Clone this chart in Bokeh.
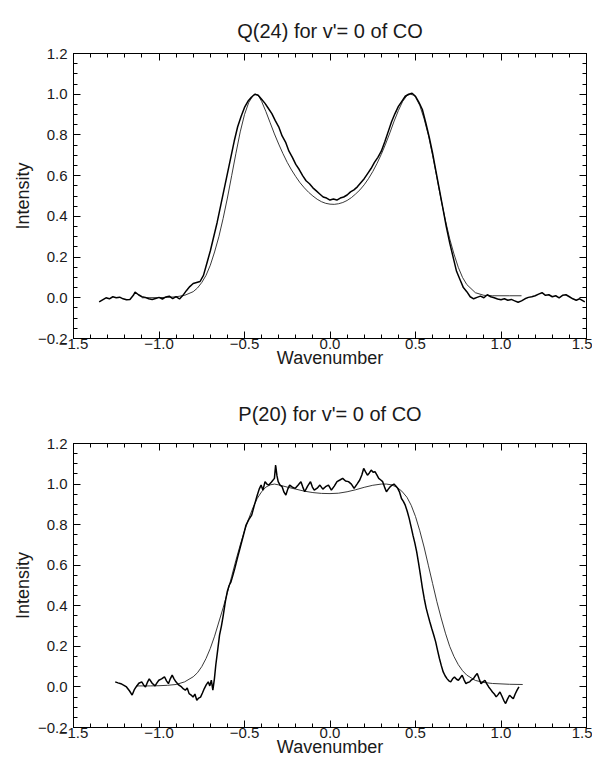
from bokeh.plotting import figure
from bokeh.models import FixedTicker, LinearAxis, Range1d
from bokeh.layouts import column
from bokeh.embed import file_html
from bokeh.resources import INLINE

# ---------------- data: Q(24) for v'=0 of CO ----------------
q_meas_x = [-1.35, -1.33, -1.31, -1.29, -1.27, -1.25, -1.23, -1.21, -1.19, -1.17,
            -1.15, -1.14, -1.12, -1.10, -1.08, -1.06, -1.04, -1.02, -1.00, -0.98,
            -0.96, -0.94, -0.92, -0.90, -0.88, -0.86, -0.84, -0.82, -0.80, -0.78,
            -0.76, -0.74, -0.72, -0.70, -0.68, -0.66, -0.64, -0.62, -0.60, -0.58,
            -0.56, -0.54, -0.52, -0.50, -0.48, -0.46, -0.44, -0.42, -0.40, -0.38,
            -0.36, -0.34, -0.32, -0.30, -0.28, -0.26, -0.24, -0.22, -0.20, -0.18,
            -0.16, -0.14, -0.12, -0.10, -0.08, -0.06, -0.04, -0.02, 0.00, 0.02,
            0.04, 0.06, 0.08, 0.10, 0.12, 0.14, 0.16, 0.18, 0.20, 0.22,
            0.24, 0.26, 0.28, 0.30, 0.32, 0.34, 0.36, 0.38, 0.40, 0.42,
            0.44, 0.46, 0.48, 0.50, 0.52, 0.54, 0.56, 0.58, 0.60, 0.62,
            0.64, 0.66, 0.68, 0.70, 0.72, 0.74, 0.76, 0.78, 0.80, 0.82,
            0.84, 0.86, 0.88, 0.90, 0.92, 0.94, 0.96, 0.98, 1.00, 1.02,
            1.04, 1.06, 1.08, 1.10, 1.12, 1.14, 1.16, 1.18, 1.20, 1.22,
            1.24, 1.26, 1.28, 1.30, 1.32, 1.34, 1.36, 1.38, 1.40, 1.42,
            1.44, 1.46, 1.48, 1.49]
q_meas_y = [-0.020, -0.010, 0.000, -0.005, 0.005, 0.000, 0.003, -0.005, -0.010, -0.008,
            0.012, 0.028, 0.015, 0.005, 0.002, -0.005, -0.008, -0.004, 0.002, -0.006,
            0.004, 0.008, -0.004, 0.006, -0.006, 0.012, 0.035, 0.055, 0.070, 0.075,
            0.080, 0.110, 0.170, 0.230, 0.300, 0.370, 0.450, 0.530, 0.610, 0.690,
            0.770, 0.840, 0.890, 0.935, 0.965, 0.985, 1.000, 0.995, 0.975, 0.955,
            0.930, 0.905, 0.870, 0.840, 0.795, 0.765, 0.720, 0.690, 0.655, 0.630,
            0.600, 0.575, 0.560, 0.540, 0.525, 0.510, 0.495, 0.490, 0.480, 0.485,
            0.480, 0.490, 0.495, 0.505, 0.520, 0.530, 0.545, 0.565, 0.585, 0.610,
            0.635, 0.665, 0.690, 0.720, 0.765, 0.815, 0.865, 0.905, 0.940, 0.965,
            0.990, 1.000, 1.005, 0.990, 0.960, 0.925, 0.860, 0.790, 0.710, 0.620,
            0.530, 0.440, 0.350, 0.270, 0.200, 0.130, 0.090, 0.050, 0.030, 0.005,
            -0.005, 0.002, 0.008, 0.000, 0.015, 0.005, 0.000, -0.006, -0.010, -0.005,
            -0.012, -0.008, -0.015, -0.022, -0.015, -0.005, 0.002, 0.005, 0.010, 0.018,
            0.025, 0.012, 0.015, 0.005, 0.010, 0.000, 0.012, 0.015, 0.005, -0.005,
            -0.012, -0.005, -0.015, -0.020]

q_fit_x = [-1.10, -1.00, -0.95, -0.90, -0.85, -0.80, -0.775, -0.75, -0.725, -0.70,
           -0.675, -0.65, -0.625, -0.60, -0.575, -0.55, -0.525, -0.50, -0.475, -0.45,
           -0.435, -0.42, -0.40, -0.375, -0.35, -0.325, -0.30, -0.275, -0.25, -0.225,
           -0.20, -0.175, -0.15, -0.125, -0.10, -0.075, -0.05, -0.025, 0.00, 0.025,
           0.05, 0.075, 0.10, 0.125, 0.15, 0.175, 0.20, 0.225, 0.25, 0.275,
           0.30, 0.325, 0.35, 0.375, 0.40, 0.425, 0.45, 0.47, 0.49, 0.50,
           0.525, 0.55, 0.575, 0.60, 0.625, 0.65, 0.675, 0.70, 0.725, 0.75,
           0.775, 0.80, 0.85, 0.90, 0.95, 1.00, 1.05, 1.12]
q_fit_y = [0.000, 0.001, 0.002, 0.005, 0.012, 0.030, 0.048, 0.075, 0.110, 0.160,
           0.225, 0.300, 0.390, 0.490, 0.600, 0.710, 0.815, 0.900, 0.960, 0.993,
           1.000, 0.995, 0.965, 0.915, 0.860, 0.805, 0.755, 0.708, 0.665, 0.628,
           0.595, 0.565, 0.540, 0.518, 0.500, 0.484, 0.472, 0.464, 0.460, 0.459,
           0.462, 0.468, 0.478, 0.492, 0.510, 0.530, 0.555, 0.585, 0.620, 0.660,
           0.705, 0.755, 0.810, 0.868, 0.920, 0.965, 0.993, 1.000, 0.995, 0.985,
           0.945, 0.880, 0.800, 0.700, 0.590, 0.480, 0.380, 0.290, 0.215, 0.150,
           0.100, 0.065, 0.025, 0.012, 0.010, 0.010, 0.010, 0.010]

# ---------------- data: P(20) for v'=0 of CO ----------------
p_meas_x = [-1.256, -1.240, -1.223, -1.205, -1.190, -1.172, -1.157, -1.145, -1.134, -1.118,
            -1.101, -1.090, -1.079, -1.068, -1.057, -1.040, -1.023, -1.012, -1.001, -0.985,
            -0.968, -0.956, -0.945, -0.934, -0.923, -0.912, -0.901, -0.885, -0.868, -0.857,
            -0.846, -0.835, -0.824, -0.812, -0.801, -0.790, -0.779, -0.768, -0.757, -0.746,
            -0.735, -0.724, -0.712, -0.703, -0.694, -0.685, -0.676, -0.668, -0.657, -0.646,
            -0.635, -0.624, -0.612, -0.601, -0.590, -0.579, -0.568, -0.557, -0.540, -0.524,
            -0.507, -0.491, -0.475, -0.458, -0.441, -0.425, -0.414, -0.403, -0.392, -0.380,
            -0.369, -0.358, -0.342, -0.325, -0.318, -0.310, -0.303, -0.292, -0.280, -0.269,
            -0.258, -0.247, -0.236, -0.220, -0.203, -0.186, -0.170, -0.159, -0.148, -0.131,
            -0.114, -0.103, -0.092, -0.075, -0.059, -0.042, -0.026, -0.009, 0.008, 0.025,
            0.041, 0.058, 0.074, 0.091, 0.108, 0.125, 0.141, 0.158, 0.174, 0.186,
            0.197, 0.208, 0.219, 0.230, 0.241, 0.252, 0.263, 0.274, 0.285, 0.297,
            0.308, 0.319, 0.330, 0.341, 0.352, 0.363, 0.374, 0.385, 0.396, 0.407,
            0.418, 0.429, 0.440, 0.452, 0.463, 0.474, 0.485, 0.496, 0.507, 0.518,
            0.529, 0.540, 0.551, 0.562, 0.573, 0.584, 0.595, 0.607, 0.618, 0.629,
            0.640, 0.651, 0.662, 0.673, 0.684, 0.695, 0.706, 0.717, 0.728, 0.740,
            0.751, 0.762, 0.773, 0.784, 0.795, 0.806, 0.817, 0.828, 0.839, 0.850,
            0.861, 0.872, 0.883, 0.895, 0.906, 0.917, 0.928, 0.939, 0.950, 0.961,
            0.972, 0.983, 0.994, 1.005, 1.016, 1.027, 1.038, 1.050, 1.061, 1.072,
            1.083, 1.094, 1.105]
p_meas_y = [0.025, 0.020, 0.016, 0.008, 0.000, -0.020, -0.040, -0.015, 0.000, 0.018,
            0.025, 0.010, 0.000, 0.022, 0.040, 0.018, 0.005, 0.020, 0.033, 0.040,
            0.050, 0.030, 0.016, 0.040, 0.058, 0.040, 0.025, 0.010, 0.000, -0.010,
            -0.016, -0.005, -0.033, -0.040, -0.050, -0.035, -0.066, -0.055, -0.050, -0.030,
            -0.008, 0.010, 0.025, 0.005, 0.033, -0.016, 0.040, 0.107, 0.180, 0.255,
            0.300, 0.354, 0.420, 0.469, 0.500, 0.518, 0.550, 0.584, 0.640, 0.691,
            0.745, 0.798, 0.825, 0.847, 0.900, 0.946, 0.975, 0.995, 0.970, 1.012,
            1.000, 0.995, 1.010, 1.028, 1.094, 1.040, 1.012, 0.995, 0.987, 0.960,
            0.946, 0.975, 0.995, 0.985, 0.979, 0.995, 1.012, 0.985, 0.962, 0.990,
            1.012, 0.985, 0.970, 0.980, 0.995, 0.975, 0.987, 0.995, 0.970, 0.990,
            1.012, 1.020, 1.028, 1.015, 1.012, 1.000, 0.979, 1.000, 1.020, 1.045,
            1.077, 1.060, 1.044, 1.055, 1.069, 1.058, 1.061, 1.045, 1.028, 1.020,
            1.012, 0.985, 0.962, 0.975, 0.987, 0.995, 1.000, 0.990, 0.979, 0.960,
            0.929, 0.915, 0.896, 0.865, 0.831, 0.790, 0.748, 0.710, 0.666, 0.610,
            0.551, 0.490, 0.436, 0.390, 0.354, 0.320, 0.288, 0.255, 0.222, 0.180,
            0.140, 0.105, 0.074, 0.055, 0.041, 0.030, 0.025, 0.040, 0.049, 0.038,
            0.033, 0.045, 0.058, 0.035, 0.016, 0.022, 0.025, 0.035, 0.041, 0.055,
            0.066, 0.040, 0.016, 0.025, 0.033, 0.015, 0.000, -0.012, -0.025, -0.035,
            -0.049, -0.038, -0.025, -0.045, -0.066, -0.082, -0.060, -0.041, -0.050, -0.058,
            -0.035, -0.016, 0.000]

p_fit_x = [-1.134, -1.05, -1.00, -0.95, -0.90, -0.85, -0.80, -0.775, -0.75, -0.725,
           -0.70, -0.675, -0.65, -0.625, -0.60, -0.575, -0.55, -0.525, -0.50, -0.475,
           -0.45, -0.425, -0.40, -0.375, -0.35, -0.325, -0.30, -0.25, -0.20, -0.15,
           -0.10, -0.05, 0.00, 0.05, 0.10, 0.15, 0.20, 0.25, 0.30, 0.33,
           0.36, 0.39, 0.42, 0.45, 0.475, 0.50, 0.525, 0.55, 0.575, 0.60,
           0.625, 0.65, 0.675, 0.70, 0.725, 0.75, 0.775, 0.80, 0.85, 0.90,
           0.95, 1.00, 1.05, 1.127]
p_fit_y = [0.005, 0.005, 0.006, 0.008, 0.012, 0.025, 0.050, 0.070, 0.100, 0.140,
           0.190, 0.250, 0.320, 0.390, 0.465, 0.545, 0.625, 0.700, 0.770, 0.830,
           0.885, 0.930, 0.962, 0.985, 0.996, 1.000, 0.996, 0.985, 0.975, 0.965,
           0.958, 0.954, 0.953, 0.955, 0.962, 0.972, 0.984, 0.994, 1.000, 1.000,
           0.996, 0.985, 0.965, 0.935, 0.895, 0.840, 0.770, 0.690, 0.600, 0.510,
           0.420, 0.340, 0.265, 0.200, 0.150, 0.110, 0.080, 0.058, 0.032, 0.022,
           0.017, 0.015, 0.013, 0.012]

# ---------------- axes / ticks ----------------
x_major = [-1.5, -1.0, -0.5, 0.0, 0.5, 1.0, 1.5]
x_labels = ["\u22121.5", "\u22121.0", "\u22120.5", "0.0", "0.5", "1.0", "1.5"]
y_major = [-0.2, 0.0, 0.2, 0.4, 0.6, 0.8, 1.0, 1.2]
y_labels = ["\u22120.2", "0.0", "0.2", "0.4", "0.6", "0.8", "1.0", "1.2"]
x_minor = [round(-1.5 + 0.1 * i, 2) for i in range(31)]
y_minor = [round(-0.2 + 0.05 * i, 3) for i in range(29)]

FONT = "Liberation Sans"
TXT = "#1a1a1a"


def style_axis(ax, show_labels):
    ax.axis_line_color = "black"
    ax.axis_line_width = 1
    ax.major_tick_in = 7
    ax.major_tick_out = 0
    ax.minor_tick_in = 4
    ax.minor_tick_out = 0
    ax.major_tick_line_color = "black"
    ax.minor_tick_line_color = "black"
    ax.major_label_text_font = FONT
    ax.major_label_text_font_size = "15px"
    ax.major_label_text_color = TXT
    ax.axis_label_text_font = FONT
    ax.axis_label_text_font_size = "18px"
    ax.axis_label_text_font_style = "normal"
    ax.axis_label_text_color = TXT
    if not show_labels:
        ax.major_label_text_alpha = 0
        ax.major_label_text_font_size = "1px"


def make(title, mx, my, fx, fy, height, btop, title_gap):
    p = figure(width=592, height=height, output_backend="svg", toolbar_location=None,
               x_range=Range1d(-1.5, 1.5), y_range=Range1d(-0.2, 1.2),
               min_border_left=73, min_border_right=6,
               min_border_top=btop, min_border_bottom=20,
               x_axis_label="Wavenumber", y_axis_label="Intensity")
    p.title.text = title
    p.title.align = "center"
    p.title.text_font = FONT
    p.title.text_font_size = "20px"
    p.title.text_font_style = "normal"
    p.title.text_color = TXT
    p.title.standoff = title_gap
    p.grid.visible = False
    p.outline_line_color = "black"
    p.background_fill_color = "white"
    p.border_fill_color = "white"

    xt = FixedTicker(ticks=x_major, minor_ticks=x_minor)
    yt = FixedTicker(ticks=y_major, minor_ticks=y_minor)

    for ax in p.below:
        ax.ticker = xt
        ax.major_label_overrides = dict(zip(x_major, x_labels))
        style_axis(ax, True)
        ax.major_label_standoff = 0
        ax.axis_label_standoff = -4
    for ax in p.left:
        ax.ticker = yt
        ax.major_label_overrides = dict(zip(y_major, y_labels))
        style_axis(ax, True)
        ax.major_label_standoff = 6
        ax.axis_label_standoff = 2

    top_ax = LinearAxis(ticker=FixedTicker(ticks=x_major, minor_ticks=x_minor))
    style_axis(top_ax, False)
    top_ax.major_label_standoff = 0
    p.add_layout(top_ax, "above")
    right_ax = LinearAxis(ticker=FixedTicker(ticks=y_major, minor_ticks=y_minor))
    style_axis(right_ax, False)
    right_ax.major_label_standoff = 0
    p.add_layout(right_ax, "right")

    p.line(fx, fy, line_color="#222222", line_width=0.9)
    p.line(mx, my, line_color="black", line_width=1.5)
    return p


p1 = make("Q(24) for v'= 0 of CO", q_meas_x, q_meas_y, q_fit_x, q_fit_y, 370, 53, 24)
p2 = make("P(20) for v'= 0 of CO", p_meas_x, p_meas_y, p_fit_x, p_fit_y, 389, 73, 38)

layout = column(p1, p2, spacing=0)
open("out.html", "w").write(file_html(layout, INLINE))
